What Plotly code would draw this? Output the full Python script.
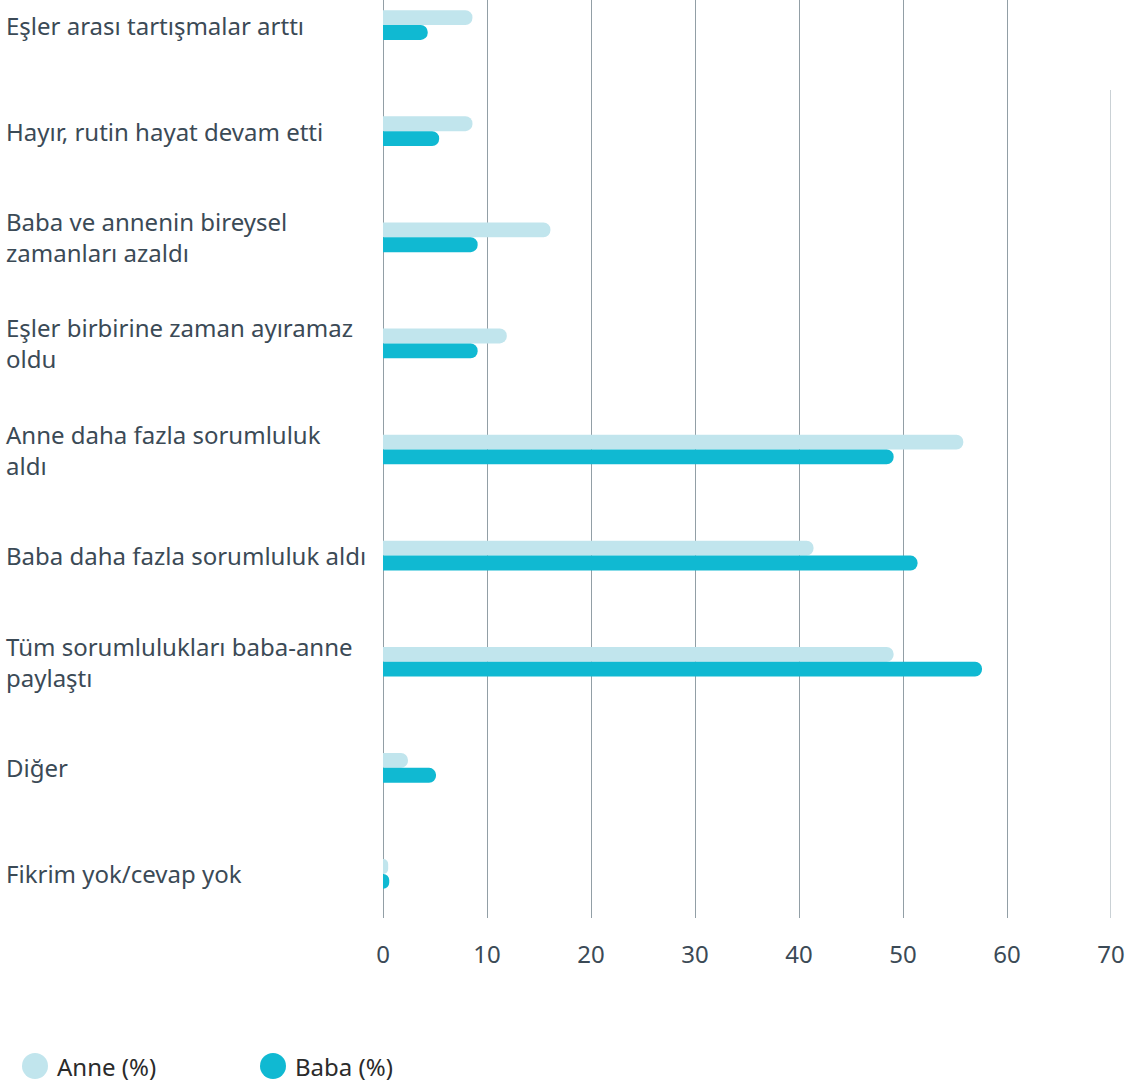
import plotly.graph_objects as go

categories = [
    "Eşler arası tartışmalar arttı",
    "Hayır, rutin hayat devam etti",
    "Baba ve annenin bireysel<br>zamanları azaldı",
    "Eşler birbirine zaman ayıramaz<br>oldu",
    "Anne daha fazla sorumluluk<br>aldı",
    "Baba daha fazla sorumluluk aldı",
    "Tüm sorumlulukları baba-anne<br>paylaştı",
    "Diğer",
    "Fikrim yok/cevap yok",
]
anne = [8.6, 8.6, 16.1, 11.9, 55.8, 41.4, 49.1, 2.4, 0.5]
baba = [4.3, 5.4, 9.1, 9.1, 49.1, 51.4, 57.6, 5.1, 0.6]
series_names = ["Anne (%)", "Baba (%)"]
series_colors = ["#c1e5ed", "#10b9d2"]
tick_vals = [0, 10, 20, 30, 40, 50, 60, 70]

font = "Noto Sans"
text_color = "#3b4a56"
grid_color = "#929fa6"

fig = go.Figure()
for name, vals, color in zip(series_names, [anne, baba], series_colors):
    fig.add_trace(go.Bar(y=categories, x=vals, name=name, orientation="h",
                         marker=dict(color=color, line=dict(width=0)),
                         showlegend=False, hoverinfo="x+name"))

# category labels, left aligned at the page edge
annotations = []
for cat in categories:
    annotations.append(dict(x=0, xref="paper", xshift=-379, xanchor="left",
                            y=cat, yref="y", yanchor="middle", showarrow=False,
                            text=cat, align="left",
                            font=dict(family=font, size=24, color=text_color)))

# legend drawn by hand so the dots can be big
shapes = []
legend_x = [35 - 383, 273 - 383]
for (name, color, lx) in zip(series_names, series_colors, legend_x):
    shapes.append(dict(type="circle", xref="paper", yref="paper",
                       xsizemode="pixel", ysizemode="pixel",
                       xanchor=0, yanchor=0, x0=lx - 13, x1=lx + 13,
                       y0=-148 - 13, y1=-148 + 13,
                       fillcolor=color, line=dict(width=0)))
    annotations.append(dict(x=0, xref="paper", xshift=lx + 20, xanchor="left",
                            y=0, yref="paper", yshift=-148, yanchor="middle",
                            showarrow=False, text=name,
                            font=dict(family=font, size=24, color="#2b2b2b")))

# last grid line (at the range edge) is shorter in the original
shapes.append(dict(type="line", xref="x", yref="paper", x0=tick_vals[-1],
                   x1=tick_vals[-1], y0=0, y1=0.902,
                   line=dict(color="#b9c2c7", width=1.5)))

fig.update_layout(
    width=1136, height=1085,
    margin=dict(l=383, r=25, t=0, b=167),
    paper_bgcolor="white", plot_bgcolor="white",
    barmode="group", bargap=0.72, bargroupgap=0,
    barcornerradius=7,
    font=dict(family=font, size=24, color=text_color),
    xaxis=dict(range=[0, 70], tickvals=tick_vals, showgrid=True,
               gridcolor=grid_color, gridwidth=1, zeroline=True,
               zerolinecolor=grid_color, zerolinewidth=1, showline=False,
               ticks="", ticklabelstandoff=20,
               tickfont=dict(family=font, size=24, color=text_color)),
    yaxis=dict(range=[8.415, -0.236], showticklabels=False, showgrid=False,
               zeroline=False, showline=False, ticks=""),
    shapes=shapes,
    annotations=annotations,
)

fig.write_html("out.html", config={"displayModeBar": False},
               post_script="document.body.style.margin='0';")
